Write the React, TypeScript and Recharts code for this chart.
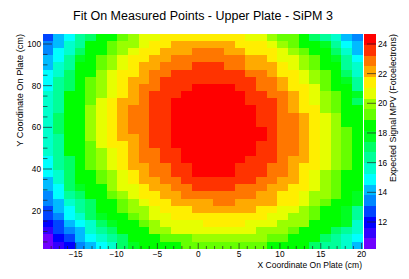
import React from 'react';
import { ScatterChart, Scatter, XAxis, YAxis } from 'recharts';

// contour colours, lowest level first
const palette = [
    '#7000ff', '#3300ff', '#0000ff', '#0044ff', '#0088ff',
    '#00bbff', '#00ffff', '#00ffcc', '#00ff99', '#00ff66',
    '#00ff22', '#00ff00', '#66ff00', '#99ff00', '#e6ff00',
    '#ffee00', '#ffaa00', '#ff7700', '#ff3300', '#ff0000',
];

// contour level of every bin, top row first, left to right
const levelRows = [
    [3, 5, 6, 8, 9, 11, 11, 12, 13, 14, 14, 15, 15, 15, 15, 15, 15, 15, 15, 14, 14, 13, 12, 12, 11, 9, 8, 7, 5, 4],
    [4, 5, 7, 8, 11, 11, 12, 13, 13, 14, 15, 15, 16, 16, 16, 16, 16, 16, 15, 15, 15, 14, 13, 12, 11, 11, 10, 8, 6, 5],
    [4, 6, 7, 9, 11, 11, 12, 13, 14, 15, 15, 16, 16, 16, 17, 17, 17, 16, 16, 15, 15, 15, 14, 13, 12, 11, 11, 9, 7, 5],
    [5, 6, 8, 10, 11, 12, 13, 14, 15, 15, 16, 16, 17, 17, 17, 17, 17, 17, 17, 16, 16, 15, 14, 14, 13, 12, 11, 10, 8, 6],
    [5, 7, 8, 11, 11, 12, 13, 14, 15, 16, 16, 17, 17, 17, 18, 18, 18, 17, 17, 16, 16, 16, 15, 14, 13, 12, 11, 11, 8, 7],
    [6, 7, 9, 11, 11, 13, 14, 15, 15, 16, 17, 17, 18, 18, 18, 18, 18, 18, 18, 17, 17, 16, 15, 15, 14, 13, 12, 11, 9, 7],
    [6, 8, 9, 11, 12, 13, 14, 15, 16, 16, 17, 18, 18, 18, 18, 18, 18, 18, 18, 18, 17, 17, 16, 15, 14, 13, 12, 11, 10, 8],
    [6, 8, 9, 11, 12, 13, 14, 15, 16, 17, 17, 18, 18, 18, 19, 19, 19, 19, 18, 18, 17, 17, 16, 15, 15, 14, 12, 11, 11, 8],
    [7, 8, 11, 11, 12, 13, 14, 15, 16, 17, 18, 18, 18, 19, 19, 19, 19, 19, 19, 18, 18, 17, 17, 16, 15, 14, 13, 12, 11, 10],
    [7, 8, 11, 11, 12, 14, 15, 16, 16, 17, 18, 18, 19, 19, 19, 19, 19, 19, 19, 18, 18, 18, 17, 16, 15, 14, 13, 12, 11, 9],
    [7, 8, 11, 11, 13, 14, 15, 16, 17, 17, 18, 18, 19, 19, 19, 19, 19, 19, 19, 19, 18, 18, 17, 16, 15, 15, 13, 12, 11, 11],
    [7, 9, 11, 11, 13, 14, 15, 16, 17, 17, 18, 18, 19, 19, 19, 19, 19, 19, 19, 19, 18, 18, 17, 17, 16, 15, 14, 13, 11, 11],
    [7, 9, 11, 11, 13, 14, 15, 16, 17, 17, 18, 18, 19, 19, 19, 19, 19, 19, 19, 19, 18, 18, 17, 17, 16, 15, 14, 13, 11, 11],
    [7, 9, 11, 11, 13, 14, 15, 16, 17, 17, 18, 18, 19, 19, 19, 19, 19, 19, 19, 19, 19, 18, 17, 17, 16, 15, 14, 13, 12, 11],
    [7, 8, 11, 11, 13, 14, 15, 16, 16, 17, 18, 18, 19, 19, 19, 19, 19, 19, 19, 19, 19, 18, 17, 17, 16, 15, 14, 13, 12, 11],
    [7, 8, 11, 11, 12, 14, 15, 15, 16, 17, 18, 18, 19, 19, 19, 19, 19, 19, 19, 19, 18, 18, 17, 17, 16, 15, 14, 13, 12, 11],
    [7, 8, 11, 11, 12, 13, 14, 15, 16, 17, 17, 18, 18, 19, 19, 19, 19, 19, 19, 19, 18, 18, 17, 17, 16, 15, 14, 13, 12, 11],
    [6, 8, 9, 11, 12, 13, 14, 15, 16, 17, 17, 18, 18, 19, 19, 19, 19, 19, 19, 18, 18, 18, 17, 16, 16, 15, 14, 13, 12, 11],
    [6, 8, 9, 11, 12, 13, 14, 15, 16, 16, 17, 17, 18, 18, 19, 19, 19, 19, 18, 18, 18, 17, 17, 16, 15, 15, 14, 13, 12, 11],
    [6, 7, 9, 11, 11, 12, 13, 14, 15, 16, 17, 17, 18, 18, 19, 19, 19, 19, 18, 18, 18, 17, 17, 16, 15, 14, 13, 12, 11, 11],
    [5, 7, 9, 11, 11, 12, 13, 14, 15, 16, 16, 17, 17, 18, 18, 18, 18, 18, 18, 18, 17, 17, 16, 16, 15, 14, 13, 12, 11, 11],
    [5, 6, 9, 10, 11, 11, 13, 14, 14, 15, 16, 16, 17, 17, 18, 18, 18, 18, 17, 17, 17, 16, 16, 15, 15, 14, 13, 12, 11, 11],
    [4, 6, 8, 9, 11, 11, 12, 13, 14, 15, 15, 16, 16, 17, 17, 17, 17, 17, 17, 17, 16, 16, 15, 15, 14, 13, 13, 12, 11, 10],
    [4, 5, 7, 8, 9, 11, 11, 12, 13, 14, 15, 15, 16, 16, 16, 16, 17, 17, 16, 16, 16, 16, 15, 15, 14, 13, 12, 11, 11, 10],
    [3, 5, 6, 8, 9, 11, 11, 12, 13, 13, 14, 15, 15, 15, 16, 16, 16, 16, 16, 16, 15, 15, 14, 14, 13, 12, 11, 11, 10, 8],
    [3, 4, 6, 7, 9, 10, 11, 11, 12, 13, 14, 14, 15, 15, 15, 15, 15, 15, 15, 15, 15, 14, 14, 13, 13, 12, 11, 11, 10, 8],
    [2, 3, 5, 6, 7, 9, 10, 11, 11, 12, 13, 14, 14, 14, 14, 15, 15, 15, 15, 14, 14, 14, 13, 13, 13, 11, 11, 11, 10, 7],
    [1, 3, 4, 5, 7, 8, 9, 11, 11, 11, 13, 13, 14, 14, 14, 14, 14, 14, 14, 14, 13, 13, 13, 12, 11, 11, 11, 9, 8, 7],
    [0, 2, 3, 5, 6, 7, 8, 9, 11, 11, 11, 12, 12, 12, 13, 13, 13, 13, 13, 13, 13, 12, 12, 11, 11, 11, 9, 8, 7, 6],
    [0, 1, 2, 4, 5, 6, 7, 9, 10, 11, 11, 11, 11, 12, 12, 12, 12, 12, 12, 12, 12, 11, 11, 11, 11, 9, 8, 8, 7, 5],
];

const xDomain: [number, number] = [-19, 20.17];
const yDomain: [number, number] = [1.6, 104.8];
const zDomain: [number, number] = [10.18, 24.67];

const xTicks = [-18, -17, -16, -15, -14, -13, -12, -11, -10, -9, -8, -7, -6, -5, -4, -3, -2, -1, 0, 1, 2, 3, 4, 5, 6, 7, 8, 9, 10, 11, 12, 13, 14, 15, 16, 17, 18, 19, 20];
const yTicks = [5, 10, 15, 20, 25, 30, 35, 40, 45, 50, 55, 60, 65, 70, 75, 80, 85, 90, 95, 100];
const zTicks = [12, 14, 16, 18, 20, 22, 24];

const FONT = '"Liberation Sans", Arial, sans-serif';
const PLOT_W = 320;
const PLOT_H = 215;
const BAR_W = 12;
const TICK_FONT = 8.3;

const dx = (xDomain[1] - xDomain[0]) / levelRows[0].length;
const dy = (yDomain[1] - yDomain[0]) / levelRows.length;
const dz = (zDomain[1] - zDomain[0]) / palette.length;

const bins = levelRows.flatMap((row, r) =>
    row.map((level, c) => ({
        x: xDomain[0] + (c + 0.5) * dx,
        y: yDomain[1] - (r + 0.5) * dy,
        level,
    }))
);

const barBins = palette.map((_, level) => ({
    x: 0.5,
    y: zDomain[0] + (level + 0.5) * dz,
    level,
}));

const makeCell = (w: number, h: number) => (props: any) => (
    <rect
        x={props.cx - w / 2}
        y={props.cy - h / 2}
        width={w}
        height={h}
        fill={palette[props.payload.level]}
        shapeRendering="crispEdges"
    />
);

const XTick = (props: any) => {
    const { x, y, payload } = props;
    const major = payload.value % 5 === 0;
    return (
        <g>
            <line x1={x} x2={x} y1={249} y2={major ? 243 : 246} stroke="#222" strokeWidth={0.7} />
            {major && (
                <text x={x} y={y} textAnchor="middle" fontSize={TICK_FONT} fontFamily={FONT} fill="#000">
                    {payload.value < 0 ? `\u2212${-payload.value}` : payload.value}
                </text>
            )}
        </g>
    );
};

const YTick = (props: any) => {
    const { y, payload } = props;
    const major = payload.value % 20 === 0;
    return (
        <g>
            <line x1={43} x2={major ? 52 : 47.5} y1={y} y2={y} stroke="#222" strokeWidth={0.7} />
            {major && (
                <text x={41} y={y + 3} textAnchor="end" fontSize={TICK_FONT} fontFamily={FONT} fill="#000">
                    {payload.value}
                </text>
            )}
        </g>
    );
};

const ZTick = (props: any) => {
    const { y, payload } = props;
    return (
        <g>
            <line x1={BAR_W - 9} x2={BAR_W} y1={y} y2={y} stroke="#222" strokeWidth={0.7} />
            <text x={BAR_W + 2} y={y + 3} textAnchor="start" fontSize={TICK_FONT} fontFamily={FONT} fill="#000">
                {payload.value}
            </text>
        </g>
    );
};

export default function App() {
    return (
        <div style={{ position: 'absolute', left: 0, top: 0, width: 409, height: 279, background: '#fff' }}>
            <ScatterChart width={409} height={279} margin={{ top: 34, right: 46, bottom: 0, left: 0 }}>
                <Scatter data={bins} dataKey="y" shape={makeCell(PLOT_W / 30 + 0.4, PLOT_H / 30 + 0.4)} isAnimationActive={false} />
                <XAxis
                    type="number"
                    dataKey="x"
                    domain={xDomain}
                    ticks={xTicks}
                    interval={0}
                    height={30}
                    allowDataOverflow
                    axisLine={false}
                    tickLine={false}
                    tick={<XTick />}
                />
                <YAxis
                    type="number"
                    dataKey="y"
                    domain={yDomain}
                    ticks={yTicks}
                    interval={0}
                    width={43}
                    allowDataOverflow
                    axisLine={false}
                    tickLine={false}
                    tick={<YTick />}
                />
            </ScatterChart>

            <div style={{ position: 'absolute', left: 364, top: 0 }}>
                <ScatterChart width={45} height={279} margin={{ top: 34, right: 0, bottom: 30, left: 0 }}>
                    <Scatter data={barBins} dataKey="y" shape={makeCell(BAR_W, PLOT_H / palette.length + 0.3)} isAnimationActive={false} />
                    <XAxis type="number" dataKey="x" domain={[0, 1]} hide />
                    <YAxis
                        type="number"
                        dataKey="y"
                        orientation="right"
                        domain={zDomain}
                        ticks={zTicks}
                        interval={0}
                        width={33}
                        allowDataOverflow
                        axisLine={false}
                        tickLine={false}
                        tick={<ZTick />}
                    />
                </ScatterChart>
            </div>

            <svg width={409} height={279} style={{ position: 'absolute', left: 0, top: 0, pointerEvents: 'none' }}>
                <text x={203} y={20} textAnchor="middle" fontSize={12.5} fontFamily={FONT} fill="#000">
                    Fit On Measured Points - Upper Plate - SiPM 3
                </text>
                <text x={362} y={268} textAnchor="end" fontSize={8.5} fontFamily={FONT} fill="#000">
                    X Coordinate On Plate (cm)
                </text>
                <text transform="translate(23,34) rotate(-90)" textAnchor="end" fontSize={9.2} fontFamily={FONT} fill="#000">
                    Y Coordinate On Plate (cm)
                </text>
                <text transform="translate(396,34) rotate(-90)" textAnchor="end" fontSize={8.9} fontFamily={FONT} fill="#000">
                    Expected Signal MPV (Fotoelectrons)
                </text>
            </svg>
        </div>
    );
}
